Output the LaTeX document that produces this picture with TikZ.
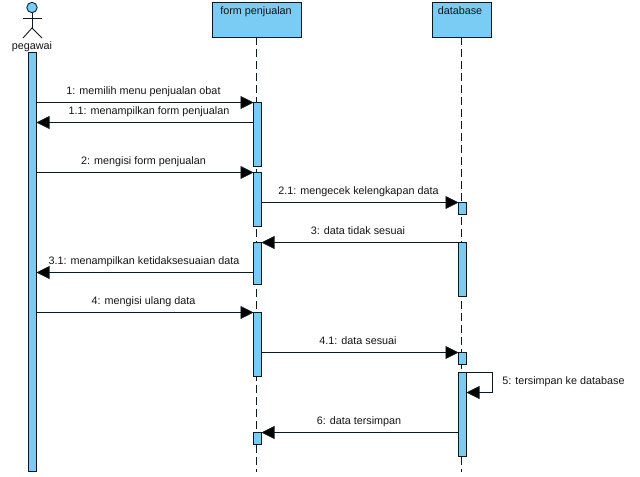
\documentclass[tikz,border=0pt]{standalone}
\usepackage{fontspec}
\setmainfont{Liberation Sans}
\definecolor{umlblue}{HTML}{7ACCF5}
\definecolor{umlline}{HTML}{0A1A20}
\usetikzlibrary{arrows.meta}
\tikzset{
  x=0.75pt,y=-0.75pt,
  line/.style={draw=umlline,line width=0.65pt},
  head/.style={rectangle,line,fill=umlblue,inner sep=0pt,outer sep=0pt,anchor=north west},
  bar/.style={rectangle,line,fill=umlblue,inner sep=0pt,outer sep=0pt,anchor=north west,minimum width=6pt},
  life/.style={line,dash pattern=on 6pt off 3pt},
  msg/.style={line,-{Triangle[length=9.75pt,width=9.75pt,fill=black]}},
  txt/.style={font=\fontsize{8.1pt}{9pt}\selectfont,inner sep=0pt,text height=6pt,text depth=1.6pt,text=black!92},
}
\newcommand{\barat}[4]{\node[bar,minimum height=#4*0.75pt] (#1) at (#2,#3) {};}
\begin{document}
\begin{tikzpicture}
\useasboundingbox (0,0) rectangle (640,476);
% actor
\node[circle,line,fill=umlblue,minimum size=7.8pt,inner sep=0pt,outer sep=0pt] (ahead) at (32,7.5) {};
\coordinate (abody) at (32,28);
\coordinate (aarmL) at (23,18);
\coordinate (aarmR) at (42,18);
\coordinate (alegL) at (23,38);
\coordinate (alegR) at (42,38);
\draw[line] (ahead.south) -- (abody);
\draw[line] (aarmL) -- (aarmR);
\draw[line] (alegL) -- (abody) -- (alegR);
\node[txt] (apegawai) at (32,47) {pegawai};
% heads
\node[head,minimum width=66.75pt,minimum height=26pt] (form) at (212.5,2.5) {};
\node[txt] (formt) at (256,12) {form penjualan};
\node[head,minimum width=44.25pt,minimum height=26pt] (db) at (432.5,2.5) {};
\node[txt] (dbt) at (460,12) {database};
% lifelines
\coordinate (formlife) at (256.5,37);
\coordinate (formbot) at (256.5,472);
\coordinate (dblife) at (461.5,37);
\coordinate (dbbot) at (461.5,472);
\draw[life] (formlife) -- (formbot);
\draw[life] (dblife) -- (dbbot);
% activations
\barat{p}{28.5}{52.5}{419}
\barat{fa}{253.5}{102.5}{63.5}
\barat{fb}{253.5}{172.5}{54}
\barat{fc}{253.5}{242.5}{42}
\barat{fd}{253.5}{312.5}{64}
\barat{fe}{253.5}{432.5}{12}
\barat{da}{458.5}{202.5}{12}
\barat{db2}{458.5}{242.5}{54}
\barat{dc}{458.5}{352.5}{12}
\barat{dd}{458.5}{372.5}{84}
% messages
\draw[msg] (p.east |- fa.north west) -- (fa.north west);
\coordinate (m11) at (253.5,122.5);
\draw[msg] (m11) -- (p.east |- m11);
\draw[msg] (p.east |- fb.north west) -- (fb.north west);
\draw[msg] (fb.east |- da.north west) -- (da.north west);
\draw[msg] (db2.north west) -- (fc.north east);
\coordinate (m31) at (253.5,272.5);
\draw[msg] (m31) -- (p.east |- m31);
\draw[msg] (p.east |- fd.north west) -- (fd.north west);
\draw[msg] (fd.east |- dc.north west) -- (dc.north west);
\coordinate (m5a) at (492.5,372.5);
\coordinate (m5b) at (492.5,392.5);
\coordinate (m5c) at (466.5,392.5);
\draw[msg] (dd.north east) -- (m5a) -- (m5b) -- (m5c);
\draw[msg] (dd.west |- fe.north east) -- (fe.north east);
% labels
\node[txt] (l1) at (143.5,92) {1: memilih menu penjualan obat};
\node[txt] (l11) at (149,112) {1.1: menampilkan form penjualan};
\node[txt] (l2) at (143.5,162) {2: mengisi form penjualan};
\node[txt] (l21) at (358.5,192) {2.1: mengecek kelengkapan data};
\node[txt] (l3) at (358,232) {3: data tidak sesuai};
\node[txt] (l31) at (144,262) {3.1: menampilkan ketidaksesuaian data};
\node[txt] (l4) at (143.5,302) {4: mengisi ulang data};
\node[txt] (l41) at (358,342) {4.1: data sesuai};
\node[txt,anchor=west] (l5) at (502,382) {5: tersimpan ke database};
\node[txt] (l6) at (359,422) {6: data tersimpan};
\end{tikzpicture}
\end{document}
